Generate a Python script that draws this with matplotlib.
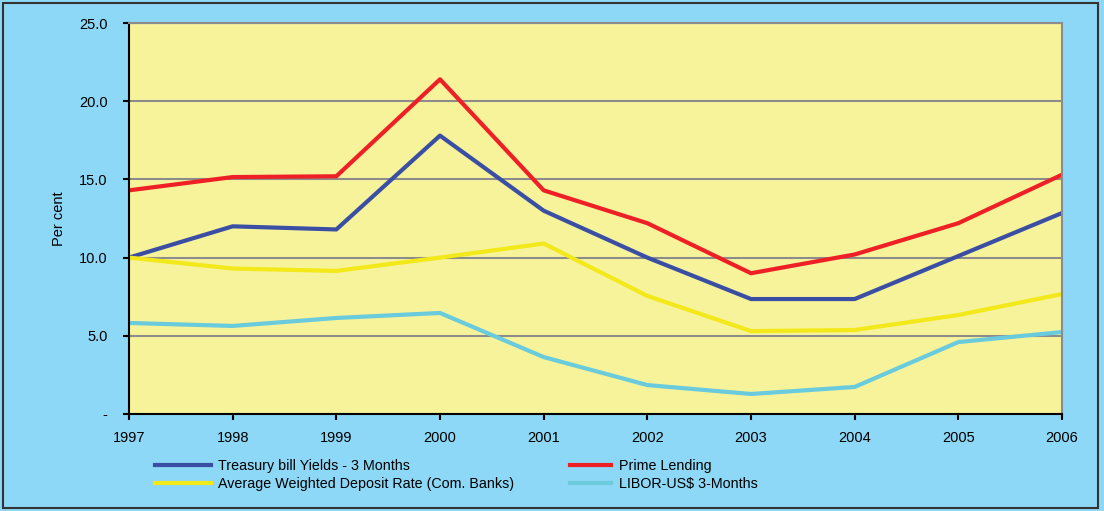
import matplotlib.pyplot as plt
from matplotlib.patches import Rectangle
from matplotlib.ticker import FuncFormatter

plt.rcParams['font.family'] = ['Liberation Sans', 'DejaVu Sans']

years = [1997, 1998, 1999, 2000, 2001, 2002, 2003, 2004, 2005, 2006]
treasury = [10.0, 12.0, 11.8, 17.8, 13.0, 10.0, 7.35, 7.35, 10.1, 12.85]
prime = [14.3, 15.15, 15.2, 21.4, 14.3, 12.2, 9.0, 10.2, 12.2, 15.3]
deposit = [10.0, 9.3, 9.15, 10.0, 10.9, 7.55, 5.3, 5.37, 6.33, 7.67]
libor = [5.82, 5.63, 6.14, 6.46, 3.64, 1.85, 1.28, 1.73, 4.6, 5.24]

bg = '#8DD8F6'
plot_bg = '#F7F39A'

fig = plt.figure(figsize=(11.04, 5.11), dpi=100, facecolor=bg)
ax = fig.add_axes([129/1104, 1 - 414/511, (1062 - 129)/1104, (414 - 23)/511])
ax.set_facecolor(plot_bg)

# 外框
fig.patches.append(Rectangle((3/1104, 3/511), 1095/1104, 505/511, transform=fig.transFigure,
                             fill=False, edgecolor='#333333', linewidth=1.5))

l1, = ax.plot(years, treasury, color='#3A4FA3', linewidth=3, label='Treasury bill Yields - 3 Months')
l2, = ax.plot(years, prime, color='#EE2026', linewidth=3, label='Prime Lending')
l3, = ax.plot(years, deposit, color='#F2E81A', linewidth=3, label='Average Weighted Deposit Rate (Com. Banks)')
l4, = ax.plot(years, libor, color='#6ACBDD', linewidth=3, label='LIBOR-US$ 3-Months')

ax.set_xlim(1997, 2006)
ax.set_ylim(0, 25)
ax.set_xticks(years)
ax.set_yticks([0, 5, 10, 15, 20, 25])
ax.yaxis.set_major_formatter(FuncFormatter(lambda v, p: '-' if v == 0 else f'{v:.1f}'))
ax.grid(axis='y', color='#8C8C8C', linewidth=1.5)
ax.set_axisbelow(True)

for s in ['top', 'right']:
    ax.spines[s].set_color('#8C8C8C')
    ax.spines[s].set_linewidth(1.5)
for s in ['left', 'bottom']:
    ax.spines[s].set_color('black')
    ax.spines[s].set_linewidth(1.5)

ax.tick_params(axis='both', direction='out', length=4.5, width=1.5, labelsize=10.5)
ax.tick_params(axis='x', pad=8)
ax.tick_params(axis='y', pad=11)
ax.set_ylabel('Per cent', fontsize=10.5, labelpad=9)

# 图例：两列，各自的线段长度不同
leg_kw = dict(loc='upper left', frameon=False, fontsize=10.3, handletextpad=0.5,
              labelspacing=0.3, borderaxespad=0, borderpad=0)
leg1 = fig.legend(handles=[l1, l3], bbox_to_anchor=(155/1104, 1 - 459/511),
                  handlelength=3.9, **leg_kw)
fig.legend(handles=[l2, l4], bbox_to_anchor=(570/1104, 1 - 459/511),
           handlelength=2.9, **leg_kw)

fig.savefig('out.png', dpi=100, facecolor=bg)
